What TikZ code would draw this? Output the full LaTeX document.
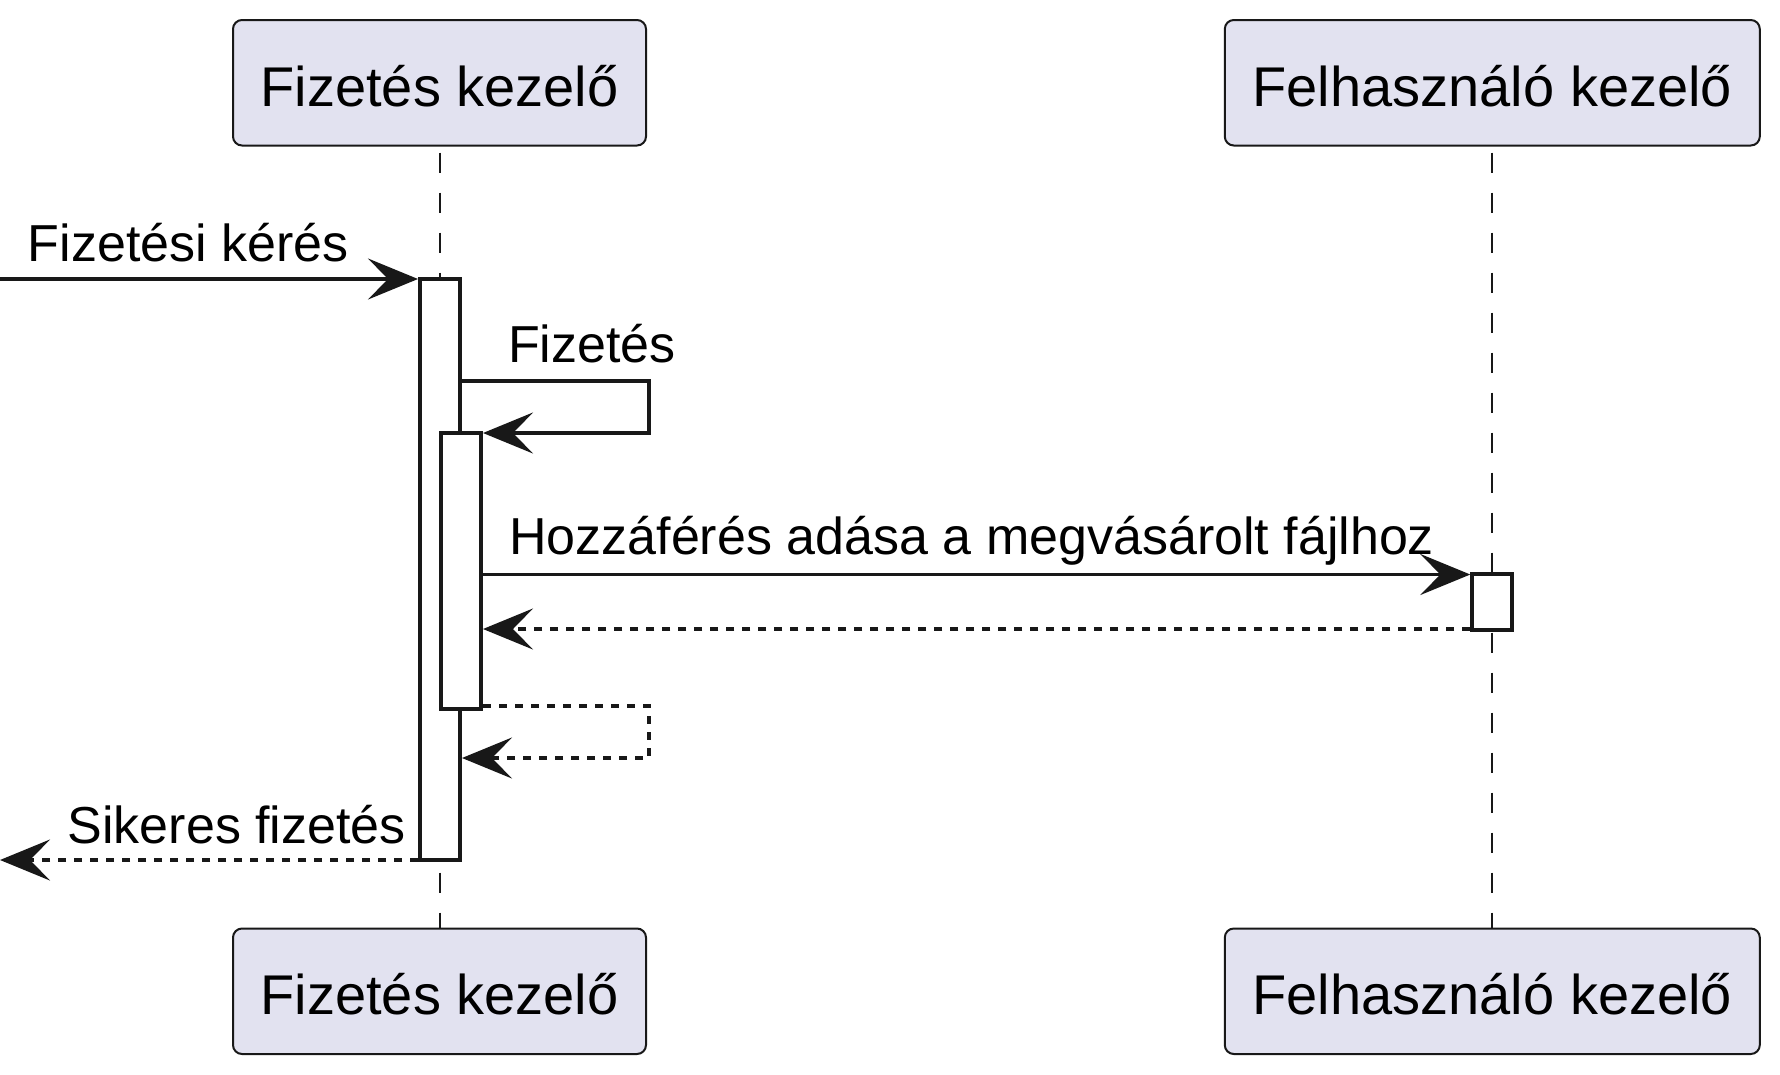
\documentclass[tikz,border=0pt]{standalone}
\usepackage{fontspec}
\setmainfont{Liberation Sans}
\usetikzlibrary{arrows.meta}
\definecolor{pfill}{HTML}{E2E2F0}
\definecolor{pline}{HTML}{181818}
\begin{document}
\begin{tikzpicture}[x=1pt,y=-1pt,
  participant/.style={draw=pline, line width=2pt, fill=pfill, rounded corners=9pt,
    minimum height=125.5pt, inner sep=0pt, text height=46.5pt, text depth=0pt,
    font=\fontsize{56}{67}\selectfont},
  lifeline/.style={draw=pline, line width=2pt, dash pattern=on 20pt off 20pt, dash phase=34pt},
  actbar/.style={draw=pline, line width=4pt, fill=white, minimum width=40pt, inner sep=0pt},
  tipstyle/.style={-{Stealth[length=50pt, width=41pt, inset=20pt]}},
  msg/.style={draw=pline, line width=3.5pt, tipstyle},
  retmsg/.style={msg, dash pattern=on 8pt off 8pt},
  lbl/.style={anchor=base west, inner sep=0pt, font=\fontsize{52}{62}\selectfont}]
\useasboundingbox (0,0) rectangle (1780,1074);
% participants
\node[participant, minimum width=413pt] (pa1) at (439.5,82.75) {Fizetés kezelő};
\node[participant, minimum width=535pt] (pb1) at (1492.3,82.75) {Felhasználó kezelő};
\node[participant, minimum width=413pt] (pa2) at (439.5,991.25) {Fizetés kezelő};
\node[participant, minimum width=535pt] (pb2) at (1492.3,991.25) {Felhasználó kezelő};
% lifelines
\draw[lifeline] (pa1.south) -- (pa2.north);
\draw[lifeline] (pb1.south) -- (pb2.north);
% activation bars
\node[actbar, minimum height=581pt] (oa) at (440,569.5) {};
\node[actbar, minimum height=276pt] (ia) at (461,571) {};
\node[actbar, minimum height=56pt] (bb) at (1492.3,602) {};
% message 1
\coordinate (in1) at (0,279);
\draw[msg] (in1) -- (oa.west |- 0,279);
\node[lbl] (l1) at (27.6,261) {Fizetési kérés};
% message 2 (self)
\coordinate (s1) at (649,381);
\coordinate (s2) at (649,433);
\draw[msg] (oa.east |- 0,381) -- (s1) -- (s2) -- (ia.east |- 0,433);
\node[lbl] (l2) at (508,362) {Fizetés};
% message 3
\draw[msg] (ia.east |- 0,574.5) -- (bb.west |- 0,574.5);
\node[lbl] (l3) at (509,554.5) {Hozzáférés adása a megvásárolt fájlhoz};
% return 4
\draw[retmsg] (bb.west |- 0,629) -- (ia.east |- 0,629);
% return 5 (self)
\coordinate (s3) at (649,706);
\coordinate (s4) at (649,758);
\draw[retmsg] (ia.east |- 0,706) -- (s3) -- (s4) -- (oa.east |- 0,758);
% message 6
\coordinate (out6) at (0,860);
\draw[retmsg] (oa.west |- 0,860) -- (out6);
\node[lbl] (l6) at (67.5,843) {Sikeres fizetés};
\end{tikzpicture}
\end{document}
